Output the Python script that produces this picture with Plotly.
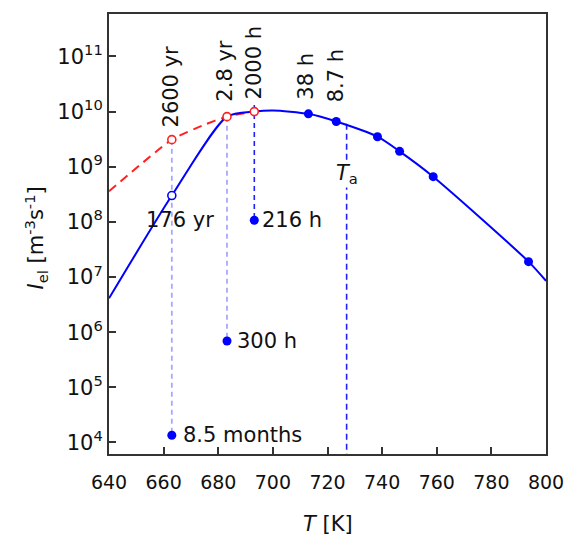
import math
import plotly.graph_objects as go

# ---------------- data ----------------
# nucleation-rate curve (solid blue), T [K] vs I_el [m^-3 s^-1]
blue_T = [640, 663, 683.2, 693.2, 700, 713, 723.2, 738.3, 746.4, 758.7, 793.6, 800]
blue_I = [4.1e6, 3.0e8, 8.1e9, 1.0e10, 1.05e10, 9.1e9, 6.6e9, 3.5e9, 1.9e9, 6.6e8, 1.9e7, 8.5e6]

# extrapolated curve (dashed red)
red_T = [640, 663, 674.6, 683.2, 693.2]
red_I = [3.6e8, 3.1e9, 5.7e9, 8.1e9, 1.0e10]

# measured points on the curve (filled blue)
meas_T = [713, 723.2, 738.3, 746.4, 758.7, 793.6]
meas_I = [9.1e9, 6.6e9, 3.5e9, 1.9e9, 6.6e8, 1.9e7]
meas_labels = ["38 h", "8.7 h", "", "", "", ""]

# open red points
red_pts_T = [663, 683.2, 693.2]
red_pts_I = [3.1e9, 8.1e9, 1.0e10]
red_pts_labels = ["2600 yr", "2.8 yr", "2000 h"]

# open blue point
open_blue_T = [663]
open_blue_I = [3.0e8]
open_blue_labels = ["176 yr"]

# low points (filled blue) below the curve
low_T = [663, 683.2, 693.2]
low_I = [1.35e4, 6.9e5, 1.07e8]
low_labels = ["8.5 months", "300 h", "216 h"]

# annealing temperature line
Ta = 727
Ta_top = 6.0e9

x_ticks = [640, 660, 680, 700, 720, 740, 760, 780, 800]
y_exps = [4, 5, 6, 7, 8, 9, 10, 11]

FONT = "DejaVu Sans"
BLUE = "#0000FF"
RED = "#FF2020"
LIGHT = "#A8A8FF"

fig = go.Figure()

# vertical guide lines
fig.add_trace(go.Scatter(x=[red_pts_T[0], low_T[0]], y=[red_pts_I[0], low_I[0]], mode="lines",
                         line=dict(color=LIGHT, width=1.8, dash="5px,4px"), hoverinfo="skip"))
fig.add_trace(go.Scatter(x=[red_pts_T[1], low_T[1]], y=[red_pts_I[1], low_I[1]], mode="lines",
                         line=dict(color=LIGHT, width=1.8, dash="5px,4px"), hoverinfo="skip"))
fig.add_trace(go.Scatter(x=[red_pts_T[2], low_T[2]], y=[1.32e10, low_I[2]], mode="lines",
                         line=dict(color="#2020FF", width=1.6, dash="5px,4px"), hoverinfo="skip"))
fig.add_trace(go.Scatter(x=[Ta, Ta], y=[Ta_top, 1e3], mode="lines",
                         line=dict(color="#2020FF", width=1.6, dash="6px,4px"), hoverinfo="skip"))

# curves
fig.add_trace(go.Scatter(x=red_T, y=red_I, mode="lines", line_shape="spline",
                         line=dict(color=RED, width=2, dash="9px,6px", smoothing=0.5)))
fig.add_trace(go.Scatter(x=blue_T, y=blue_I, mode="lines", line_shape="spline",
                         line=dict(color=BLUE, width=2, smoothing=0.7)))

# markers
fig.add_trace(go.Scatter(x=meas_T, y=meas_I, mode="markers",
                         marker=dict(color=BLUE, size=9)))
fig.add_trace(go.Scatter(x=low_T, y=low_I, mode="markers",
                         marker=dict(color=BLUE, size=9)))
fig.add_trace(go.Scatter(x=red_pts_T, y=red_pts_I, mode="markers",
                         marker=dict(color="white", size=8, line=dict(color=RED, width=1.6))))
fig.add_trace(go.Scatter(x=open_blue_T, y=open_blue_I, mode="markers",
                         marker=dict(color="white", size=8, line=dict(color=BLUE, width=1.6))))

ann = []
lab_font = dict(family=FONT, size=21, color="#111")

# rotated labels above points
rot = [(red_pts_T[0], red_pts_I[0], red_pts_labels[0], -1, 10),
       (red_pts_T[1], red_pts_I[1], red_pts_labels[1], -2, 13),
       (red_pts_T[2], red_pts_I[2], red_pts_labels[2], 0, 10),
       (meas_T[0], meas_I[0], meas_labels[0], -2, 12),
       (meas_T[1], meas_I[1], meas_labels[1], 0, 17)]
for t, v, s, dx, dy in rot:
    ann.append(dict(x=t, y=math.log10(v), text=s, showarrow=False, textangle=-90,
                    xanchor="center", yanchor="bottom", xshift=dx, yshift=dy, font=lab_font))

# horizontal labels
ann.append(dict(x=open_blue_T[0], y=math.log10(open_blue_I[0]), text=open_blue_labels[0], showarrow=False,
                xanchor="left", yanchor="middle", xshift=-28, yshift=-24, font=lab_font))
for t, v, s, dx in zip(low_T, low_I, low_labels, [9, 8, 6]):
    ann.append(dict(x=t, y=math.log10(v), text=s, showarrow=False,
                    xanchor="left", yanchor="middle", xshift=dx, font=lab_font))

# T_a label
ann.append(dict(x=Ta, y=8.86, text="<i>T</i><sub>a</sub>", showarrow=False, bgcolor="white",
                xanchor="center", yanchor="middle", font=lab_font, borderpad=0))

# axis titles
ann.append(dict(x=0.5, y=-0.127, xref="paper", yref="paper", text="<i>T</i> [K]", showarrow=False,
                xanchor="center", yanchor="top", font=dict(family=FONT, size=21, color="#111")))
ann.append(dict(x=-0.167, y=0.49, xref="paper", yref="paper",
                text="<i>I</i><sub>el</sub> [m<sup>-3</sup>s<sup>-1</sup>]", showarrow=False,
                textangle=-90, xanchor="center", yanchor="middle",
                font=dict(family=FONT, size=21, color="#111")))

fig.update_layout(
    width=576, height=539,
    margin=dict(l=109, r=23, t=12, b=85),
    paper_bgcolor="white", plot_bgcolor="white",
    showlegend=False,
    annotations=ann,
    font=dict(family=FONT, color="#111"),
)
fig.update_xaxes(range=[640, 800], tickvals=x_ticks, ticks="inside", ticklen=7, tickwidth=1.5,
                 tickcolor="#333", showline=True, linecolor="#333", linewidth=2, mirror=True,
                 showgrid=False, zeroline=False, ticklabelstandoff=10,
                 tickfont=dict(family=FONT, size=19, color="#111"))
fig.update_yaxes(type="log", range=[3.79, 11.77], tickvals=[10 ** e for e in y_exps],
                 ticktext=["10<sup>%d</sup>" % e for e in y_exps],
                 ticks="inside", ticklen=7, tickwidth=1.5,
                 tickcolor="#333", showline=True, linecolor="#333", linewidth=2, mirror=True,
                 showgrid=False, zeroline=False, tickfont=dict(family=FONT, size=21, color="#111"))

fig.write_html("out.html")
